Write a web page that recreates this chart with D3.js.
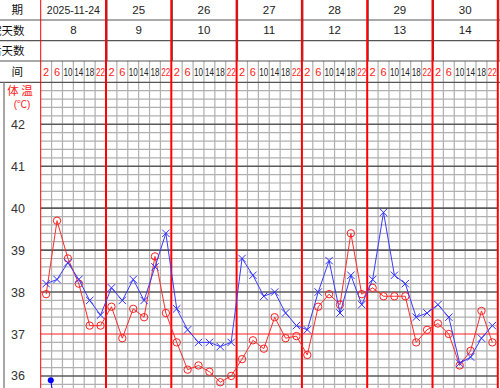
<!DOCTYPE html>
<html>
<head>
<meta charset="utf-8">
<script src="https://cdn.jsdelivr.net/npm/d3@7"></script>
<style>
  body { margin: 0; background: #fff; }
  svg { display: block; }
  text { font-family: "Liberation Sans", "Noto Sans CJK SC", sans-serif; }
  .cjk { font-family: "Noto Sans CJK SC", sans-serif; }
</style>
</head>
<body>
<svg id="chart" width="500" height="388"></svg>
<script>
const dates = ["2025-11-24", "25", "26", "27", "28", "29", "30"];
const hospitalDays = [8, 9, 10, 11, 12, 13, 14];
const timeLabels = [2, 6, 10, 14, 18, 22];
const rowLabels = ["日　　期", "住院天数", "术后天数", "时　　间"];
const tempTicks = [42, 41, 40, 39, 38, 37, 36];

// red circles, one per 4h slot
const redValues = [
  37.95, 39.7, 38.8, 38.2, 37.2, 37.2, 37.65, 36.9, 37.6, 37.4, 38.85, 37.5,
  36.8, 36.15, 36.25, 36.1, 35.85, 36.0, 36.4, 36.85, 36.65, 37.4, 36.9, 36.95,
  36.5, 37.65, 37.95, 37.7, 39.4, 37.95, 38.1, 37.9, 37.9, 37.9, 36.8, 37.1,
  37.25, 37.0, 36.25, 36.6, 37.55, 36.8
];
// blue crosses
const blueValues = [
  38.2, 38.3, 38.7, 38.3, 37.8, 37.45, 38.1, 37.8, 38.3, 37.8, 38.6, 39.4,
  37.6, 37.1, 36.8, 36.8, 36.7, 36.8, 38.8, 38.4, 37.9, 38.0, 37.5, 37.2,
  37.1, 38.0, 38.75, 37.5, 38.4, 37.7, 38.3, 39.9, 38.4, 38.2, 37.4, 37.5,
  37.7, 37.4, 36.3, 36.45, 36.9, 37.2
];
// blue dot series (hours from start, value)
const dotHours = [3.7, 7.9];
const dotValues = [35.9, 34.0];

const svg = d3.select("#chart");
const left = 40.7, right = 497.8;
const rowY = [-0.6, 20, 40.7, 61, 82.3];
const gridTop = 82.3;

const x = d3.scaleLinear().domain([0, 168]).range([left, right]);
const y = d3.scaleLinear().domain([43, 35]).range([gridTop, gridTop + 8 * 41.95]);
const slotHour = i => i * 4 + 2;

// grid horizontal lines every 0.2
const minor = d3.range(358, 431, 2).map(d => d / 10);
svg.append("g").selectAll("line").data(minor.filter(v => Math.abs(v - Math.round(v)) > 0.01))
  .join("line")
  .attr("x1", left).attr("x2", right)
  .attr("y1", d => y(d)).attr("y2", d => y(d))
  .attr("stroke", "#b0b0b0").attr("stroke-width", 1.2);

// vertical slot lines
const slotEdges = d3.range(0, 169, 4).filter(h => h % 24 !== 0);
svg.append("g").selectAll("line").data(slotEdges).join("line")
  .attr("x1", d => x(d)).attr("x2", d => x(d))
  .attr("y1", rowY[3]).attr("y2", 388)
  .attr("stroke", "#b0b0b0").attr("stroke-width", 1.2);

// integer lines
svg.append("g").selectAll("line").data(tempTicks).join("line")
  .attr("x1", left).attr("x2", right)
  .attr("y1", d => y(d)).attr("y2", d => y(d))
  .attr("stroke", d => d === 37 ? "#ff2020" : "#5a5a5a")
  .attr("stroke-width", d => d === 37 ? 1 : 1.6);

// header rows
svg.append("g").selectAll("line").data(rowY.slice(1)).join("line")
  .attr("x1", 0).attr("x2", 500)
  .attr("y1", d => d).attr("y2", d => d)
  .attr("stroke", "#555").attr("stroke-width", 1.2);

// dark day borders in header
svg.append("g").selectAll("line").data(d3.range(1, 8)).join("line")
  .attr("x1", d => x(d * 24) + 1).attr("x2", d => x(d * 24) + 1)
  .attr("y1", 0).attr("y2", rowY[3])
  .attr("stroke", "#444").attr("stroke-width", 1);

// red day lines
svg.append("g").selectAll("line").data(d3.range(0, 8)).join("line")
  .attr("x1", d => x(d * 24)).attr("x2", d => x(d * 24))
  .attr("y1", 0).attr("y2", 388)
  .attr("stroke", "#ff0000").attr("stroke-width", d => d === 0 ? 1 : 2);

// left column divider
svg.append("line").attr("x1", 4).attr("x2", 4).attr("y1", gridTop).attr("y2", 388)
  .attr("stroke", "#888").attr("stroke-width", 1.5);

// header texts
const rowMid = i => (rowY[i] + rowY[i + 1]) / 2 + 4;
svg.append("g").selectAll("text").data(rowLabels).join("text")
  .attr("class", "cjk")
  .attr("x", (d, i) => i === 1 || i === 2 ? 24.5 : 23)
  .attr("y", (d, i) => rowMid(i) + 0.5)
  .attr("text-anchor", "end").attr("font-size", 11.5).attr("fill", "#111")
  .text(d => d);

svg.append("g").selectAll("text").data(dates).join("text")
  .attr("x", (d, i) => x(i * 24 + 12)).attr("y", rowMid(0))
  .attr("text-anchor", "middle").attr("font-size", 11.5).attr("fill", "#222")
  .each(function(d, i) { if (i === 0) d3.select(this).attr("textLength", 53).attr("lengthAdjust", "spacingAndGlyphs"); })
  .text(d => d);

svg.append("g").selectAll("text").data(hospitalDays).join("text")
  .attr("x", (d, i) => x(i * 24 + 12)).attr("y", rowMid(1))
  .attr("text-anchor", "middle").attr("font-size", 11.5).attr("fill", "#222")
  .text(d => d);

const timeCells = d3.range(7).flatMap(day => timeLabels.map(t => ({day, t})));
svg.append("g").selectAll("text").data(timeCells).join("text")
  .attr("x", d => x(d.day * 24 + d.t)).attr("y", rowMid(3))
  .attr("text-anchor", "middle").attr("font-size", 11)
  .attr("fill", d => (d.t === 2 || d.t === 6 || d.t === 22) ? "#ff2020" : "#222")
  .each(function(d) { if (d.t >= 10) d3.select(this).attr("textLength", 9).attr("lengthAdjust", "spacingAndGlyphs"); })
  .text(d => d.t);

// y axis labels
svg.append("text").attr("class", "cjk").attr("x", 20).attr("y", 95)
  .attr("text-anchor", "middle").attr("font-size", 11.5).attr("fill", "#ff2020")
  .text("体 温");
svg.append("text").attr("x", 22).attr("y", 107.5)
  .attr("text-anchor", "middle").attr("font-size", 10).attr("fill", "#ff2020")
  .text("(℃)");
svg.append("g").selectAll("text").data(tempTicks).join("text")
  .attr("x", 18).attr("y", d => y(d) + 4.5)
  .attr("text-anchor", "middle").attr("font-size", 12.5).attr("fill", "#333")
  .text(d => d);

// series
const line = d3.line().x((d, i) => x(slotHour(i))).y(d => y(d));

svg.append("path").datum(redValues).attr("d", line)
  .attr("fill", "none").attr("stroke", "#ff2a2a").attr("stroke-width", 1);
svg.append("g").selectAll("circle").data(redValues).join("circle")
  .attr("cx", (d, i) => x(slotHour(i))).attr("cy", d => y(d)).attr("r", 3.7)
  .attr("fill", "none").attr("stroke", "#ff2020").attr("stroke-width", 1);

svg.append("path").datum(blueValues).attr("d", line)
  .attr("fill", "none").attr("stroke", "#3a3aff").attr("stroke-width", 1);
svg.append("g").selectAll("path").data(blueValues).join("path")
  .attr("transform", (d, i) => `translate(${x(slotHour(i))},${y(d)})`)
  .attr("d", "M-3.7,-3.7L3.7,3.7M-3.7,3.7L3.7,-3.7")
  .attr("stroke", "#3030ff").attr("stroke-width", 1).attr("fill", "none");

const dots = dotHours.map((h, i) => [h, dotValues[i]]);
svg.append("path").datum(dots)
  .attr("d", d3.line().x(d => x(d[0])).y(d => y(d[1])))
  .attr("fill", "none").attr("stroke", "#0000ff").attr("stroke-width", 1);
svg.append("circle").attr("cx", x(dots[0][0])).attr("cy", y(dots[0][1])).attr("r", 3)
  .attr("fill", "#0000ff");
</script>
</body>
</html>
